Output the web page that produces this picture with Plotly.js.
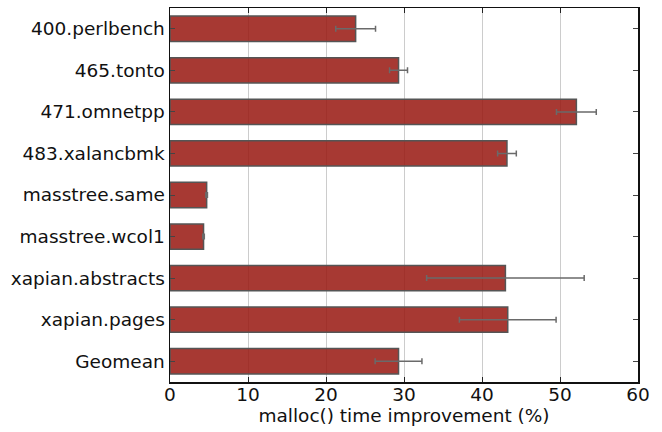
<!DOCTYPE html>
<html>
<head>
<meta charset="utf-8">
<script src="https://cdn.plot.ly/plotly-3.0.1.min.js"></script>
<style>html,body{margin:0;padding:0;background:#fff;}#chart{width:662px;height:432px;}</style>
</head>
<body>
<div id="chart"></div>
<script>
const categories = ["400.perlbench","465.tonto","471.omnetpp","483.xalancbmk","masstree.same","masstree.wcol1","xapian.abstracts","xapian.pages","Geomean"];
const improvement = [23.8, 29.3, 52.1, 43.2, 4.7, 4.3, 43.0, 43.3, 29.3];
const errors = [2.55, 1.15, 2.55, 1.2, 0.1, 0.1, 10.1, 6.2, 3.0];
const xTicks = [0, 10, 20, 30, 40, 50, 60];

const trace = {
  type: 'bar',
  orientation: 'h',
  y: categories,
  x: improvement,
  marker: {color: 'rgba(152,24,17,0.86)', line: {color: '#555555', width: 1.5}},
  error_x: {type: 'data', array: errors, visible: true, color: '#6a6a6a', thickness: 1.5, width: 3},
  hoverinfo: 'skip'
};

const fsize = 18.5;
const font = {family: 'DejaVu Sans, sans-serif', size: fsize, color: '#111'};
const layout = {
  width: 662, height: 432,
  margin: {l: 170, r: 24, t: 8, b: 50, pad: 0},
  paper_bgcolor: '#fff', plot_bgcolor: '#fff',
  font: font,
  showlegend: false,
  bargap: 0.39,
  xaxis: {
    range: [0, 60],
    tickvals: xTicks,
    ticktext: xTicks.map(String),
    ticks: 'inside', ticklen: 5, tickwidth: 1, tickcolor: '#222',
    showline: true, linecolor: '#111', linewidth: 1.5, mirror: 'ticks',
    showgrid: true, gridcolor: '#cccccc', gridwidth: 1,
    zeroline: false,
    tickfont: font,
    ticklabelstandoff: -5,
    title: {text: 'malloc() time improvement (%)', font: font, standoff: 0}
  },
  yaxis: {
    type: 'category',
    categoryorder: 'array', categoryarray: categories,
    autorange: 'reversed',
    ticks: 'inside', ticklen: 5, tickwidth: 1, tickcolor: '#444',
    showline: true, linecolor: '#111', linewidth: 1.5, mirror: 'ticks',
    showgrid: false, zeroline: false,
    tickfont: font,
    ticklabelstandoff: 0
  }
};

Plotly.newPlot('chart', [trace], layout, {displayModeBar: false, staticPlot: true});
</script>
</body>
</html>
